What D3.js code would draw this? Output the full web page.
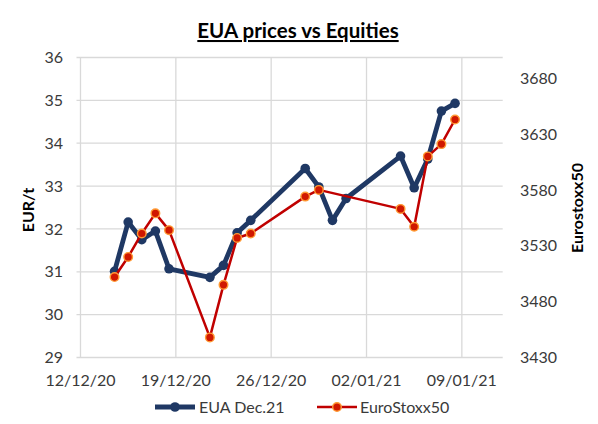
<!DOCTYPE html>
<html>
<head>
<meta charset="utf-8">
<script src="https://cdn.jsdelivr.net/npm/d3@7"></script>
<style>
  html, body { margin: 0; padding: 0; background: #fff; }
  svg { display: block; }
  text { font-family: Lato, "Open Sans", sans-serif; fill: #3a3a3a; }
</style>
</head>
<body>
<svg id="chart" width="598" height="424"></svg>
<script>
// ---- data ----
const dates = ["2020-12-14","2020-12-15","2020-12-16","2020-12-17","2020-12-18",
               "2020-12-21","2020-12-22","2020-12-23","2020-12-24",
               "2020-12-28","2020-12-29","2020-12-30","2020-12-31",
               "2021-01-04","2021-01-05","2021-01-06","2021-01-07","2021-01-08"];
const euaDec21 = [31.01, 32.16, 31.75, 31.95, 31.07,
                  30.87, 31.15, 31.91, 32.20,
                  33.41, 32.98, 32.20, 32.71,
                  33.70, 32.96, 33.63, 34.75, 34.93];
const euroStoxx50 = [3502, 3520, 3541, 3559, 3544,
                     3448, 3495, 3537, 3541,
                     3574, 3580, null, null,
                     3563, 3547, 3610, 3621, 3643];
const leftTicks = [29, 30, 31, 32, 33, 34, 35, 36];
const rightTicks = [3430, 3480, 3530, 3580, 3630, 3680];
const xStart = "2020-12-12", xEnd = "2021-01-12";
const title = "EUA prices vs Equities";
const seriesNames = ["EUA Dec.21", "EuroStoxx50"];

// ---- setup ----
const svg = d3.select("#chart");
const parse = d3.timeParse("%Y-%m-%d");
const fmt = d3.timeFormat("%d/%m/%y");
const L = 80.5, R = 502.7, T = 57.5, B = 357.5;

const x = d3.scaleTime().domain([parse(xStart), parse(xEnd)]).range([L, R]);
const yL = d3.scaleLinear().domain([29, 36]).range([B, T]);
const yR = d3.scaleLinear().domain([3430, 3698.5]).range([B, T]);
const mid = d => d3.timeHour.offset(parse(d), 12);

const xTicks = d3.timeDay.range(parse(xStart), parse(xEnd), 7);

const grid = "#d9d9d9";
// horizontal gridlines
svg.append("g").selectAll("line").data(leftTicks).join("line")
  .attr("x1", L - 4).attr("x2", R)
  .attr("y1", d => yL(d)).attr("y2", d => yL(d))
  .attr("stroke", grid).attr("stroke-width", 1.3);
// vertical gridlines
svg.append("g").selectAll("line").data(xTicks).join("line")
  .attr("x1", d => x(d)).attr("x2", d => x(d))
  .attr("y1", T).attr("y2", B)
  .attr("stroke", grid).attr("stroke-width", 1.3);

// left axis labels
svg.append("g").selectAll("text").data(leftTicks).join("text")
  .attr("x", 63).attr("y", d => yL(d)).attr("dy", "0.35em")
  .attr("text-anchor", "end").attr("font-size", 16).text(d => d);
// right axis labels
svg.append("g").selectAll("text").data(rightTicks).join("text")
  .attr("x", 520).attr("y", d => yR(d)).attr("dy", "0.35em")
  .attr("text-anchor", "start").attr("font-size", 16).text(d => d);
// x axis labels
svg.append("g").selectAll("text").data(xTicks).join("text")
  .attr("x", d => x(d)).attr("y", 386)
  .attr("text-anchor", "middle").attr("font-size", 16).text(d => fmt(d));

// axis titles
svg.append("text").attr("transform", "translate(34,210) rotate(-90)")
  .attr("text-anchor", "middle").attr("font-size", 16).attr("font-weight", "bold")
  .style("fill", "#000").text("EUR/t");
svg.append("text").attr("transform", "translate(583,208) rotate(-90)")
  .attr("text-anchor", "middle").attr("font-size", 16).attr("font-weight", "bold")
  .style("fill", "#000").text("Eurostoxx50");

// title
svg.append("text").attr("x", 298).attr("y", 38)
  .attr("text-anchor", "middle").attr("font-size", 20.5).attr("font-weight", "bold")
  .style("fill", "#000").attr("text-decoration", "underline").text(title);

// ---- series ----
const blue = "#1f3864", red = "#c00000", orange = "#ff9933";
const euaData = dates.map((d, i) => ({ d: mid(d), v: euaDec21[i] }));
const stoxxData = dates.map((d, i) => ({ d: mid(d), v: euroStoxx50[i] }))
  .filter(p => p.v !== null);

svg.append("path").datum(euaData)
  .attr("d", d3.line().x(p => x(p.d)).y(p => yL(p.v)))
  .attr("fill", "none").attr("stroke", blue).attr("stroke-width", 4.8)
  .attr("stroke-linejoin", "round");
svg.append("g").selectAll("circle").data(euaData).join("circle")
  .attr("cx", p => x(p.d)).attr("cy", p => yL(p.v)).attr("r", 4.8)
  .attr("fill", blue);

svg.append("path").datum(stoxxData)
  .attr("d", d3.line().x(p => x(p.d)).y(p => yR(p.v)))
  .attr("fill", "none").attr("stroke", red).attr("stroke-width", 2.5)
  .attr("stroke-linejoin", "round");
svg.append("g").selectAll("circle").data(stoxxData).join("circle")
  .attr("cx", p => x(p.d)).attr("cy", p => yR(p.v)).attr("r", 4.3)
  .attr("fill", "#d01800").attr("stroke", orange).attr("stroke-width", 1.4);

// ---- legend ----
const lg = svg.append("g");
lg.append("line").attr("x1", 155).attr("x2", 195).attr("y1", 407).attr("y2", 407)
  .attr("stroke", blue).attr("stroke-width", 4.8);
lg.append("circle").attr("cx", 175).attr("cy", 407).attr("r", 4.8).attr("fill", blue);
lg.append("text").attr("x", 199).attr("y", 407).attr("dy", "0.35em")
  .attr("font-size", 16).text(seriesNames[0]);
lg.append("line").attr("x1", 317).attr("x2", 357).attr("y1", 407).attr("y2", 407)
  .attr("stroke", red).attr("stroke-width", 2.5);
lg.append("circle").attr("cx", 337).attr("cy", 407).attr("r", 4.3)
  .attr("fill", "#d01800").attr("stroke", orange).attr("stroke-width", 1.4);
lg.append("text").attr("x", 360).attr("y", 407).attr("dy", "0.35em")
  .attr("font-size", 16).text(seriesNames[1]);
</script>
</body>
</html>
